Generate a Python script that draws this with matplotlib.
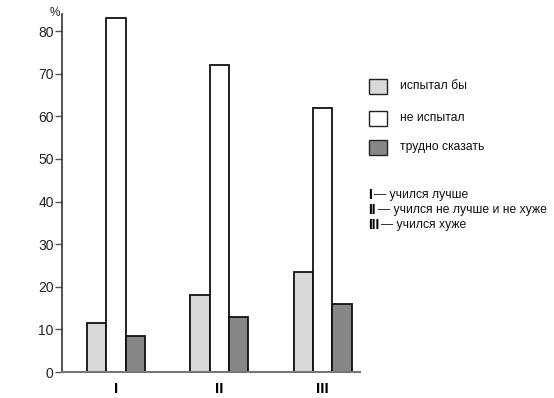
import matplotlib
matplotlib.use("Agg")
import matplotlib.pyplot as plt
import numpy as np

plt.rcParams['font.family'] = ['Liberation Sans', 'DejaVu Sans']

groups = ["I", "II", "III"]
series_names = ["испытал бы", "не испытал", "трудно сказать"]
would_have = [11.5, 18, 23.5]
did_not = [83, 72, 62]
hard_to_say = [8.5, 13, 16]
colors = ["#d8d9db", "#ffffff", "#878787"]
yticks = [0, 10, 20, 30, 40, 50, 60, 70, 80]
notes = [("I", "учился лучше"), ("II", "учился не лучше и не хуже"), ("III", "учился хуже")]

fig = plt.figure(figsize=(5.54, 3.98), dpi=100)
ax = fig.add_axes([62/554, 26/398, 298/554, 358/398])

x = np.arange(len(groups))
w = 0.188
for i, (vals, c) in enumerate(zip([would_have, did_not, hard_to_say], colors)):
    ax.bar(x + (i - 1) * w, vals, width=w, color=c, edgecolor="#111111", linewidth=1.3)

ax.set_xlim(-0.52, 2.36)
ax.set_ylim(0, 84)
ax.set_yticks(yticks)
ax.set_yticklabels([str(v) for v in yticks], fontsize=10, color="#222222")
ax.set_xticks(x)
ax.set_xticklabels(groups, fontsize=11, fontweight="bold")
ax.tick_params(axis="x", length=0, pad=7)
ax.tick_params(axis="y", length=5, width=1, color="#555555", pad=1)
for s in ["top", "right"]:
    ax.spines[s].set_visible(False)
ax.spines["left"].set_color("#333333")
ax.spines["bottom"].set_color("#777777")
ax.spines["left"].set_linewidth(1.2)
ax.spines["bottom"].set_linewidth(1.5)

fig.text(55/554, 1 - 13/398, "%", fontsize=8.5, ha="center", va="center", color="#222222")

# Legend boxes
box_y = [86, 118, 147]
for name, c, yc in zip(series_names, colors, box_y):
    fig.patches.append(plt.Rectangle((369/554, 1 - (yc + 7.5)/398), 18/554, 15/398,
                                     transform=fig.transFigure, facecolor=c,
                                     edgecolor="#222222", linewidth=1.0))
    fig.text(400/554, 1 - yc/398, name, fontsize=8.7, ha="left", va="center", color="#111111")

note_y = [195, 210, 225]
for (num, txt), yc in zip(notes, note_y):
    t = fig.text(368/554, 1 - yc/398, num, fontsize=10, fontweight="bold", ha="left", va="center")
    fig.canvas.draw()
    bb = t.get_window_extent()
    fig.text((bb.x1 + 2)/554, 1 - yc/398, "— " + txt, fontsize=8.7, ha="left", va="center", color="#111111")

fig.savefig("out.png", dpi=100)
